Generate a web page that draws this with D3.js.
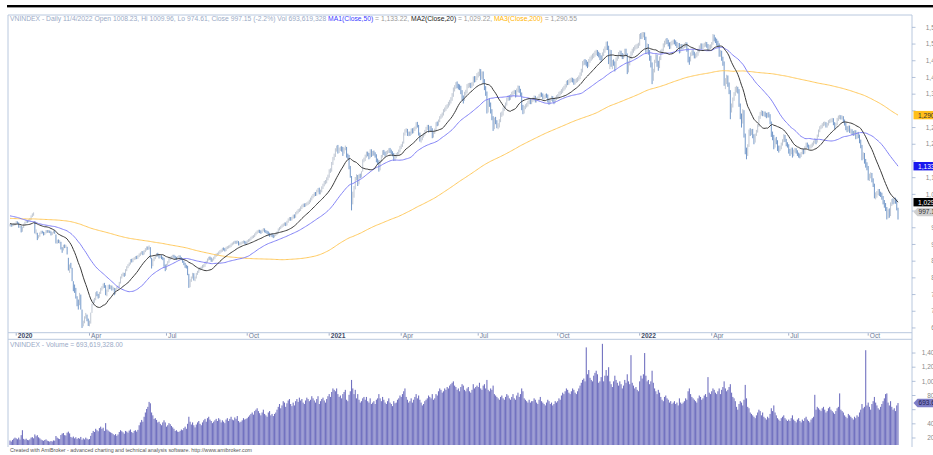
<!DOCTYPE html>
<html><head><meta charset="utf-8">
<script src="https://cdn.jsdelivr.net/npm/d3@7"></script>
<style>body{margin:0;background:#fff;overflow:hidden}svg{display:block}</style>
</head><body><svg id="c" width="933" height="455"></svg>
<script>
// 2019 closes (only used to seed the moving averages)
const preCloses = [
1000,995,990,993,998,1003,1008,1005,1000,995,985,978,970,972,978,980,981,
985,988,990,985,980,975,972,970,968,972,970,966,960,962,965,970,972,970,975,980,
975,970,965,968,966,962,960,964,968,965,962,966,970,968,965,962,960,958,955,952,950,950,
946,948,950,953,958,960,958,955,952,950,948,950,955,956,953,950,948,950,952,949,
955,960,963,965,968,970,972,970,975,978,980,982,985,988,990,993,995,992,990,988,990,992,992,
985,975,965,970,978,985,982,980,978,982,985,988,990,985,988,990,992,990,985,983,985,983,
978,972,970,975,978,980,985,988,990,992,995,993,990,988,990,992,994,996,995,994,
990,985,988,990,993,995,998,1000,1002,1000,998,995,993,996,1000,1003,1005,1008,1010,1012,1014,1016,1017,
1020,1022,1024,1020,1018,1015,1012,1010,1005,1000,995,990,985,980,978,975,972,970,968,970,970,
968,965,962,960,962,965,968,966,963,960,958,960,962,960,958,957,957];

// Daily closes, 25 Dec 2019 .. 4 Nov 2022
const closes = [
958,956,958,961,961,
967,965,953,955,940,951,960,966,970,968,972,976,984,989,991,937,937,
920,925,933,938,936,930,935,940,938,940,937,930,935,940,935,907,910,908,910,890,
883,897,893,896,874,826,834,833,794,769,768,743,723,720,751,710,659,667,681,688,675,662,
664,694,721,731,735,754,750,743,755,766,771,778,776,753,761,776,771,774,767,769,
753,767,770,773,785,801,809,812,808,823,832,838,843,853,850,856,858,862,860,865,
869,873,876,872,880,885,890,888,893,862,833,854,859,865,871,868,863,866,860,858,837,825,
840,847,856,860,862,866,864,859,858,862,865,860,857,849,843,835,834,813,776,793,800,812,796,
800,812,818,826,828,831,836,836,845,848,855,860,858,852,855,860,866,870,871,876,880,
881,887,886,883,890,892,893,895,900,903,905,907,906,908,901,902,905,907,908,906,905,
910,912,915,920,922,925,930,935,938,940,938,937,942,945,940,938,936,932,928,930,927,925,
928,932,936,945,949,953,957,960,962,960,968,975,978,976,980,986,983,994,997,1002,1003,
1010,1015,1018,1017,1020,1022,1025,1030,1036,1042,1047,1052,1050,1060,1065,1055,1060,1070,1078,1085,1088,1097,1104,
1120,1123,1143,1158,1167,1184,1192,1180,1185,1188,1185,1178,1186,1190,1166,1164,1130,1108,1023,1053,
1067,1098,1105,1082,1106,1104,1115,1150,1155,1164,1173,1170,1160,1181,1168,
1175,1172,1167,1152,1149,1125,1150,1164,1178,1174,1170,1176,1177,1184,1180,1175,1170,1155,1162,1170,1172,1180,1191,
1195,1204,1231,1240,1242,1230,1233,1232,1243,1238,1245,1248,1262,1255,1232,1215,1216,1224,1230,1239,
1248,1253,1240,1250,1244,1225,1236,1243,1262,1260,1270,1280,1285,1290,1300,1305,1312,1315,1322,1328,
1336,1348,1365,1372,1380,1375,1372,1370,1358,1340,1334,1353,1358,1375,1377,1378,1375,1380,1398,1392,1398,1408,
1410,1420,1400,1412,1390,1370,1354,1300,1330,1320,1300,1280,1250,1275,1268,1255,1255,1270,1290,1290,1305,1310,
1320,1335,1340,1338,1345,1352,1355,1357,1345,1362,1370,1360,1350,1310,1298,1310,1315,1318,1325,1330,1325,1331,
1335,1340,1330,1335,1338,1345,1350,1348,1340,1342,1346,1345,1330,1325,1335,1340,1332,1328,1338,1342,
1345,1352,1355,1360,1365,1370,1375,1385,1383,1390,1392,1393,1392,1385,1390,1392,1395,1400,1410,1420,1444,
1446,1445,1440,1437,1450,1456,1460,1465,1468,1474,1475,1470,1467,1460,1455,1470,1480,1486,1500,1490,1460,1478,
1440,1445,1443,1430,1456,1462,1470,1475,1468,1462,1465,1480,1470,1420,1442,1460,1472,1480,1485,1490,1492,1495,1498,
1525,1522,1528,1531,1520,1480,1496,1475,1460,1440,1400,1420,1448,1465,1440,1432,1458,1478,1479,
1497,1505,1510,1508,1500,1492,1502,1505,1507,1506,1500,1495,1498,1480,1495,1490,
1495,1495,1500,1483,1455,1450,1470,1475,1473,1464,1466,1470,1480,1490,1496,1490,1495,1498,1501,1495,1488,1492,1492,
1500,1524,1515,1510,1503,1498,1470,1476,1458,1445,1385,1388,1402,1380,1360,1303,1315,1335,1350,1366,
1367,1362,1320,1285,1270,1300,1228,1182,1173,1196,1240,1232,1240,1225,1210,1228,1238,1255,1280,1292,
1295,1290,1293,1288,1286,1290,1286,1266,1230,1222,1193,1213,1209,1190,1185,1190,1200,1210,1225,1213,1200,1197,
1180,1174,1186,1167,1180,1184,1178,1171,1166,1165,1173,1183,1175,1190,1200,1196,1190,1193,1195,1200,1206,
1213,1208,1225,1240,1250,1252,1258,1262,1262,1255,1260,1268,1270,1272,1273,1262,1252,1260,1275,1280,1282,1280,1280,
1270,1262,1248,1243,1252,1240,1240,1235,1232,1238,1222,1233,1225,1210,1195,1160,1170,1150,1140,1132,
1100,1106,1110,1093,1080,1045,1048,1055,1060,1052,1050,1040,1028,1018,1008,988,1000,990,1022,1030,1027,
1035,1030,1008,997.15];

const highs = [
962,961,961,964,965,
970,969,966,958,956,953,962,968,973,972,975,979,987,993,996,970,945,
935,928,936,941,941,938,937,943,943,943,942,939,937,943,942,930,914,915,913,908,
892,899,900,899,893,860,840,845,830,790,780,770,745,735,755,750,705,672,685,695,690,678,
672,696,723,735,740,757,760,752,758,770,775,783,785,778,765,779,780,778,777,773,
770,769,774,777,788,804,812,816,815,826,835,841,846,856,857,859,862,865,866,868,
873,876,880,880,883,889,894,894,897,892,860,857,863,868,874,875,870,869,868,863,860,840,
842,850,859,864,866,869,869,866,863,865,868,867,862,859,851,845,839,836,812,796,804,815,814,
804,815,821,829,832,834,839,841,848,851,858,863,864,861,858,863,869,873,875,879,883,
885,890,891,889,893,895,897,899,903,906,909,911,911,912,910,906,908,910,912,911,909,
913,916,918,923,926,928,933,938,942,944,944,942,945,949,948,943,941,939,935,933,933,930,
931,935,939,948,952,956,960,963,966,966,971,978,982,982,983,989,990,997,1001,1006,1008,
1014,1019,1022,1023,1024,1026,1029,1034,1040,1046,1051,1056,1057,1064,1069,1070,1064,1074,1082,1090,1093,1101,1109,
1125,1128,1147,1162,1172,1188,1196,1198,1190,1193,1194,1192,1190,1196,1192,1172,1168,1135,1105,1058,
1075,1102,1110,1108,1110,1112,1119,1155,1160,1169,1178,1178,1174,1185,1185,
1180,1181,1176,1170,1157,1152,1153,1168,1182,1183,1178,1180,1182,1188,1189,1184,1179,1174,1166,1174,1177,1184,1195,
1200,1208,1235,1245,1248,1246,1238,1238,1247,1248,1250,1253,1266,1267,1258,1235,1222,1228,1234,1243,
1252,1258,1258,1254,1255,1248,1240,1247,1266,1268,1274,1284,1290,1295,1305,1310,1317,1320,1327,1333,
1341,1353,1370,1377,1386,1388,1381,1379,1375,1362,1346,1357,1363,1380,1383,1384,1384,1386,1403,1404,1404,1413,
1417,1426,1425,1418,1418,1395,1374,1358,1335,1338,1325,1305,1284,1280,1282,1272,1263,1275,1295,1298,1310,1316,
1325,1340,1346,1347,1350,1357,1360,1363,1362,1367,1376,1375,1366,1355,1318,1315,1320,1324,1330,1335,1336,1336,
1340,1346,1345,1340,1343,1350,1355,1355,1352,1347,1351,1352,1349,1336,1339,1345,1344,1336,1342,1347,
1350,1357,1360,1365,1370,1375,1380,1390,1392,1395,1398,1400,1399,1396,1395,1398,1401,1406,1415,1426,1449,
1453,1455,1452,1447,1455,1462,1466,1471,1474,1480,1483,1482,1477,1473,1466,1475,1486,1493,1507,1508,1495,1484,
1482,1452,1454,1448,1460,1468,1476,1481,1480,1473,1471,1486,1486,1472,1448,1466,1478,1486,1491,1496,1499,1501,1504,
1530,1533,1536,1536,1535,1522,1502,1500,1482,1465,1445,1426,1453,1470,1468,1450,1463,1483,1486,
1502,1510,1516,1518,1513,1505,1507,1510,1513,1514,1511,1506,1503,1503,1500,1500,
1500,1502,1506,1505,1488,1462,1475,1481,1482,1477,1472,1476,1486,1496,1502,1502,1501,1504,1507,1506,1500,1498,1499,
1506,1530,1528,1520,1516,1510,1502,1482,1480,1462,1448,1398,1408,1406,1385,1362,1322,1340,1356,1372,
1375,1372,1365,1322,1292,1305,1302,1232,1190,1200,1244,1248,1245,1246,1230,1232,1243,1260,1285,1297,
1302,1300,1298,1298,1294,1295,1296,1290,1268,1238,1228,1218,1222,1212,1196,1196,1205,1215,1230,1228,1216,1206,
1200,1186,1190,1190,1184,1189,1188,1182,1175,1172,1177,1187,1186,1194,1205,1205,1199,1197,1200,1205,1211,
1218,1216,1229,1244,1254,1258,1263,1267,1268,1266,1264,1272,1275,1277,1279,1278,1266,1264,1279,1286,1288,1287,1286,
1284,1274,1265,1254,1256,1256,1247,1245,1240,1242,1242,1237,1237,1229,1214,1198,1176,1174,1156,1146,
1135,1112,1116,1114,1098,1082,1056,1060,1066,1066,1058,1055,1045,1033,1024,1012,1005,1008,1026,1036,1038,
1042,1040,1035,1009.96];

const lows = [
954,953,954,955,957,
960,962,950,950,936,938,949,958,964,965,966,970,974,982,986,933,930,
913,918,923,931,933,927,928,933,935,935,934,927,928,933,932,903,902,904,903,885,
875,882,889,890,870,822,815,828,790,760,755,738,715,705,718,705,650,655,664,678,670,656,
655,663,695,718,725,733,745,738,740,752,762,768,770,748,745,758,766,766,762,763,
748,751,764,767,771,783,798,805,803,806,820,829,835,840,846,847,853,855,856,857,
862,866,870,868,870,877,882,884,885,858,828,835,850,856,862,864,858,859,856,853,833,820,
824,837,845,853,856,859,860,855,853,855,858,856,853,845,838,830,828,808,770,772,788,798,792,
790,798,809,815,822,824,828,831,833,841,845,852,854,848,848,852,857,863,866,868,872,
876,878,882,879,880,886,888,890,892,897,900,902,902,903,897,897,899,902,903,902,900,
903,907,909,912,917,919,922,927,932,935,934,932,934,939,936,934,931,927,923,924,922,919,
921,925,929,933,942,946,950,953,956,955,957,965,971,971,972,977,978,980,990,993,997,
1000,1006,1011,1012,1013,1016,1018,1021,1026,1032,1038,1043,1045,1046,1056,1050,1050,1056,1066,1074,1080,1083,1092,
1100,1114,1118,1138,1152,1162,1178,1172,1174,1180,1178,1165,1172,1182,1160,1155,1125,1100,1002,1020,
1040,1065,1092,1075,1080,1098,1100,1118,1146,1150,1160,1164,1155,1158,1162,
1165,1166,1160,1146,1140,1118,1122,1147,1160,1168,1163,1166,1170,1174,1174,1170,1164,1150,1150,1158,1165,1168,1176,
1186,1192,1202,1226,1235,1225,1224,1225,1228,1232,1233,1240,1245,1250,1226,1208,1205,1212,1220,1226,
1235,1243,1235,1236,1238,1218,1220,1231,1240,1254,1256,1266,1276,1280,1286,1296,1300,1306,1310,1316,
1322,1330,1342,1358,1366,1368,1364,1362,1350,1330,1322,1330,1346,1352,1368,1370,1368,1370,1375,1385,1386,1392,
1400,1404,1392,1396,1382,1362,1345,1292,1295,1312,1292,1272,1240,1245,1260,1248,1245,1250,1266,1282,1286,1300,
1305,1316,1330,1331,1333,1340,1346,1350,1340,1341,1356,1354,1344,1302,1290,1292,1305,1310,1313,1320,1320,1320,
1326,1330,1325,1325,1330,1333,1340,1342,1335,1334,1337,1339,1325,1318,1320,1330,1327,1320,1323,1332,
1336,1340,1346,1350,1354,1360,1364,1370,1377,1378,1384,1386,1385,1378,1379,1384,1386,1390,1395,1405,1415,
1436,1438,1433,1428,1432,1444,1450,1454,1458,1462,1467,1464,1460,1452,1446,1450,1464,1474,1482,1482,1440,1425,
1432,1425,1435,1418,1428,1450,1456,1464,1462,1455,1455,1460,1464,1410,1415,1436,1455,1466,1474,1480,1484,1486,1488,
1495,1515,1515,1520,1512,1470,1474,1468,1450,1430,1380,1390,1415,1443,1432,1420,1428,1452,1470,
1478,1490,1498,1500,1493,1485,1486,1496,1499,1499,1494,1488,1489,1472,1474,1484,
1484,1488,1490,1477,1445,1438,1448,1464,1466,1457,1457,1460,1465,1475,1485,1484,1485,1490,1492,1489,1482,1483,1485,
1488,1498,1508,1503,1495,1490,1462,1462,1450,1435,1375,1365,1380,1372,1350,1275,1295,1310,1330,1345,
1355,1352,1312,1275,1250,1262,1220,1170,1155,1165,1192,1225,1228,1218,1200,1205,1225,1235,1252,1276,
1286,1284,1284,1282,1278,1280,1280,1260,1222,1212,1185,1190,1200,1180,1175,1180,1185,1196,1206,1207,1194,1190,
1172,1165,1170,1160,1164,1175,1172,1165,1160,1158,1162,1170,1170,1172,1186,1190,1185,1186,1188,1191,1196,
1202,1200,1205,1222,1236,1245,1248,1254,1256,1250,1250,1256,1263,1265,1266,1257,1245,1248,1257,1270,1275,1274,1274,
1264,1256,1242,1236,1238,1234,1232,1228,1225,1226,1215,1216,1218,1203,1188,1152,1155,1142,1130,1122,
1092,1090,1098,1086,1072,1038,1035,1040,1048,1045,1042,1034,1020,1010,1000,975,978,980,985,1015,1020,
1022,1022,1002,974.61];

// Daily volume, millions of shares
const volumes = [
165,150,172,190,205,
195,182,205,178,240,310,188,176,190,172,168,180,205,212,196,250,225,
240,210,195,178,168,160,172,180,162,155,148,158,150,166,162,228,205,192,185,242,
262,270,240,235,275,290,265,215,205,220,195,210,185,200,190,215,175,195,180,205,190,178,
185,230,270,300,285,330,310,295,340,360,330,345,300,410,320,305,290,280,270,255,
240,255,230,250,285,310,295,280,260,300,290,275,305,320,285,270,300,310,290,315,
380,420,455,430,500,560,610,640,710,690,560,520,470,480,455,420,430,400,380,420,450,420,
360,380,410,395,370,350,330,300,310,290,285,300,320,310,340,360,330,400,500,430,390,420,380,
350,390,420,440,400,380,420,450,470,430,480,500,460,440,410,430,450,470,440,480,460,
420,450,430,410,460,480,440,470,500,460,450,490,470,510,440,420,430,450,480,460,470,
480,500,520,540,560,530,580,600,620,580,550,520,560,600,540,520,500,560,580,520,540,510,
540,560,600,640,680,620,660,720,700,640,690,730,750,680,650,700,660,720,750,710,770,
730,750,700,680,730,770,750,720,740,790,760,730,700,750,790,680,720,750,770,730,700,750,790,
820,780,850,900,880,860,900,820,780,800,760,820,850,880,740,720,810,860,1020,900,
820,880,760,820,740,700,720,760,780,740,780,720,700,760,680,
700,720,680,740,760,820,760,720,780,740,700,680,720,760,700,680,650,720,690,700,740,760,800,
780,820,860,900,780,740,700,720,760,700,740,780,820,760,800,740,700,660,680,720,
740,760,800,780,760,820,740,760,820,800,860,900,880,840,860,900,880,920,900,940,
960,980,1000,940,920,880,900,860,920,960,940,880,860,900,920,860,840,880,960,900,920,940,
920,980,900,880,940,960,900,1020,880,860,900,880,940,820,800,780,760,740,780,800,760,740,
780,820,800,760,740,780,820,760,740,800,840,780,820,900,860,760,740,720,700,740,700,720,
720,760,740,700,680,740,780,720,700,680,660,700,740,720,680,700,660,680,720,700,
720,760,740,800,840,820,860,900,880,840,820,860,900,880,840,820,860,900,940,980,1020,
1040,1000,1480,1100,1160,1050,1020,1000,1080,1120,1150,1100,980,1000,1060,1530,1000,1080,1160,1080,1200,1000,
960,920,1000,1080,1020,980,940,1000,960,900,940,1020,980,1100,1000,960,1370,980,940,900,920,880,860,
1000,1080,1040,1100,1400,1080,1000,1020,960,1000,1150,980,900,860,820,880,840,780,740,
720,780,800,760,740,700,720,680,700,720,680,700,660,760,700,680,
700,720,760,740,860,900,820,780,760,740,720,700,760,800,780,740,760,800,820,780,1060,840,820,
860,900,880,840,820,860,900,820,880,920,1000,900,860,880,920,960,840,780,760,720,
640,600,680,720,700,660,740,950,760,640,620,560,540,520,500,480,520,560,600,580,
520,560,500,480,460,500,480,540,620,580,660,560,520,480,460,440,480,500,520,480,460,440,
460,440,480,520,460,440,420,460,480,440,420,460,440,480,500,460,440,420,460,480,500,
810,600,640,620,600,580,620,640,600,560,580,620,640,600,580,560,540,580,620,640,830,600,580,
560,520,500,480,540,520,500,480,460,500,480,520,500,560,600,680,620,640,1440,660,
700,640,600,680,720,780,700,660,620,600,640,680,720,760,820,830,700,660,720,640,600,
620,580,660,693.619];

const tickLabels = ["2020","Apr","Jul","Oct","2021","Apr","Jul","Oct","2022","Apr","Jul","Oct"];
const tickBars   = [5,64,126,191,257,315,377,441,507,565,627,691];
const priceTicks = [1550,1500,1450,1400,1350,1300,1250,1200,1150,1100,1050,1000,950,900,850,800,750,700,650];
const volumeTicks = [1400,1200,1000,800,600,400,200];
const maPeriods = [200,50,20];
const tagLabels = ["1,290.55","1,133.22","1,029.22","997.15"];
const lastVolumeLabel = "693.62M";

const headerParts = [
  ["VNINDEX - Daily 11/4/2022 Open 1008.23, Hi 1009.96, Lo 974.61, Close 997.15 (-2.2%) Vol 693,619,328 ","#9aaac6"],
  ["MA1(Close,50)","#3b3bff"],[" = 1,133.22, ","#9a9a9a"],
  ["MA2(Close,20)","#222222"],[" = 1,029.22, ","#9a9a9a"],
  ["MA3(Close,200)","#ffb400"],[" = 1,290.55","#9a9a9a"]];

const n = Math.min(closes.length, highs.length, lows.length, volumes.length);
const svg = d3.select("#c");
const FONT = "'Liberation Sans', Arial, sans-serif";
const L = 8, R = 912, PT = 15, PB = 332.7, VT = 339.3, VB = 445;
const border = "#b9c8de";

const x = d3.scaleLinear().domain([0, 715]).range([10, 898]);
const yP = d3.scaleLinear().domain([636.4, 1587]).range([332.5, 15]);
const yV = d3.scaleLinear().domain([101, 1594]).range([VB, VT]);

// top black rule
svg.append("rect").attr("x",7).attr("y",5).attr("width",926).attr("height",2.4).attr("fill","#000");

// pane frames
const fr = svg.append("g").attr("stroke",border).attr("stroke-width",1).attr("fill","none");
fr.append("line").attr("x1",L).attr("x2",R).attr("y1",PT).attr("y2",PT);
fr.append("line").attr("x1",L).attr("x2",R).attr("y1",PB).attr("y2",PB);
fr.append("line").attr("x1",L).attr("x2",R).attr("y1",VT).attr("y2",VT);
fr.append("line").attr("x1",L).attr("x2",L).attr("y1",PT).attr("y2",447);
fr.append("line").attr("x1",R).attr("x2",R).attr("y1",PT).attr("y2",447);

svg.append("clipPath").attr("id","pc").append("rect").attr("x",L).attr("y",PT).attr("width",R-L).attr("height",PB-PT);
svg.append("clipPath").attr("id","vc").append("rect").attr("x",L).attr("y",VT).attr("width",R-L).attr("height",VB-VT);

// price bars
const idx = d3.range(n);
const pg = svg.append("g").attr("clip-path","url(#pc)");
pg.selectAll("line.bar").data(idx).join("line")
  .attr("x1", i=>x(i)).attr("x2", i=>x(i))
  .attr("y1", i=>yP(highs[i])).attr("y2", i=>yP(lows[i]))
  .attr("stroke", i => (i>0 && closes[i] < closes[i-1]) ? "#7398c9" : "#bfc7d3")
  .attr("stroke-width",1);

// moving averages
const all = preCloses.concat(closes.slice(0,n));
const off = preCloses.length;
function movingAvg(p){
  return idx.map(i => { const k = off + i; return d3.mean(all.slice(Math.max(0,k-p+1), k+1)); });
}
const maColors = {200:"#ffc95e", 50:"#8282f5", 20:"#3a3a3a"};
const maVals = {};
maPeriods.forEach(p => {
  maVals[p] = movingAvg(p);
  pg.append("path").datum(maVals[p])
    .attr("fill","none").attr("stroke",maColors[p]).attr("stroke-width",1)
    .attr("d", d3.line().x((d,i)=>x(i)).y(d=>yP(d)));
});

// volume bars
const vg = svg.append("g").attr("clip-path","url(#vc)");
vg.selectAll("rect").data(idx).join("rect")
  .attr("x", i=>x(i)-0.55).attr("width",1.1)
  .attr("y", i=>yV(volumes[i])).attr("height", i=>VB - yV(volumes[i]))
  .attr("fill","#7272c0");

// date axis
const dg = svg.append("g");
tickBars.forEach((b,k)=>{
  const tx = x(b);
  dg.append("line").attr("x1",tx).attr("x2",tx).attr("y1",333.2).attr("y2",335.6).attr("stroke","#8797b8").attr("stroke-width",0.8);
  const bold = /^\d{4}$/.test(tickLabels[k]);
  dg.append("text").attr("x",tx+1.6).attr("y",338.1).text(tickLabels[k])
    .attr("font-family",FONT).attr("font-size","6.6px")
    .attr("font-weight", bold ? "bold" : "normal")
    .attr("fill", bold ? "#3d4a66" : "#6d7a96");
});

// value tags (positions)
const lastI = n-1;
const tagDefs = [
  {y: yP(maVals[200][lastI]), label: tagLabels[0], fill: "#ffbf1a", tc: "#333", arrow: false},
  {y: yP(maVals[50][lastI]),  label: tagLabels[1], fill: "#1818ee", tc: "#fff", arrow: false},
  {y: yP(maVals[20][lastI]),  label: tagLabels[2], fill: "#000",    tc: "#fff", arrow: false},
  {y: yP(closes[lastI]),      label: tagLabels[3], fill: "#cfcfcf", tc: "#333", arrow: true},
  {y: yV(volumes[lastI]),     label: lastVolumeLabel, fill: "#7d7dc6", tc: "#1e1e50", arrow: true}];
const nearTag = ty => tagDefs.some(t => Math.abs(t.y - ty) < 7);

// price and volume axes
const ag = svg.append("g");
function axisTick(ty, v, endX){
  ag.append("line").attr("x1",R).attr("x2",R+3.5).attr("y1",ty).attr("y2",ty).attr("stroke","#9fb2d0").attr("stroke-width",0.8);
  if (nearTag(ty)) return;
  ag.append("text").attr("x",endX).attr("y",ty+2.2).attr("text-anchor","end").text(d3.format(",")(v))
    .attr("font-family",FONT).attr("font-size","6.5px").attr("fill","#8a8a8a");
}
priceTicks.forEach(v => axisTick(yP(v), v, 942));
volumeTicks.forEach(v => axisTick(yV(v), v, 938));

function tag(t){
  const h = 8.4, x0 = R + 1.5, yc = t.y;
  const g = svg.append("g");
  if (t.arrow){
    g.append("path").attr("d",`M${x0},${yc} L${x0+4},${yc-h/2} L940,${yc-h/2} L940,${yc+h/2} L${x0+4},${yc+h/2} Z`).attr("fill",t.fill);
  } else {
    g.append("rect").attr("x",x0).attr("y",yc-h/2).attr("width",30).attr("height",h).attr("fill",t.fill);
  }
  g.append("text").attr("x",x0+(t.arrow?5:4.5)).attr("y",yc+2.4).text(t.label)
    .attr("font-family",FONT).attr("font-size","6.6px").attr("fill",t.tc);
}
tagDefs.forEach(tag);

// header text
function fitText(sel, w){
  const len = sel.node().getComputedTextLength();
  const fs = parseFloat(sel.attr("font-size"));
  sel.attr("font-size", (fs*w/len).toFixed(3)+"px");
}
const hdr = svg.append("text").attr("x",10).attr("y",21.3).attr("font-family",FONT).attr("font-size","6.5px");
headerParts.forEach(p=> hdr.append("tspan").attr("fill",p[1]).text(p[0]));
fitText(hdr, 568);

const vh = svg.append("text").attr("x",10).attr("y",346.6).attr("font-family",FONT).attr("font-size","6.5px")
  .attr("fill","#9aaac6").text("VNINDEX - Volume = 693,619,328.00");
fitText(vh, 113);

const ft = svg.append("text").attr("x",10).attr("y",452.3).attr("font-family",FONT).attr("font-size","5.5px")
  .attr("fill","#555").text("Created with AmiBroker - advanced charting and technical analysis software. http://www.amibroker.com");
fitText(ft, 243);
</script>
</body></html>
